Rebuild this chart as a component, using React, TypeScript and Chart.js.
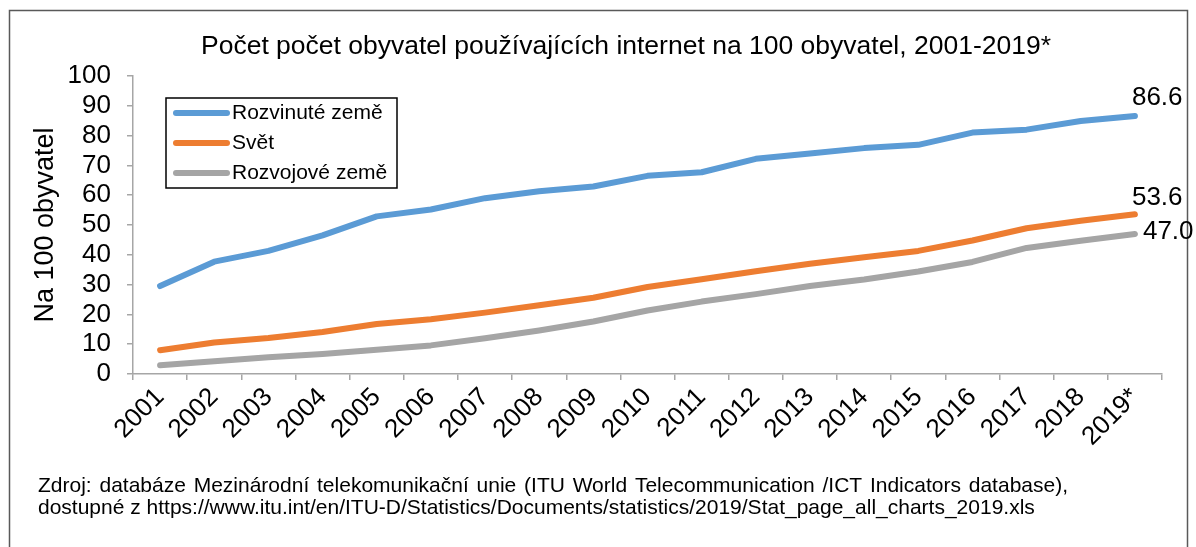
import React, { useEffect, useRef } from "react";
import { Chart, registerables } from "chart.js";

Chart.register(...registerables);

const years = ["2001", "2002", "2003", "2004", "2005", "2006", "2007", "2008", "2009", "2010", "2011", "2012", "2013", "2014", "2015", "2016", "2017", "2018", "2019*"];
const developed = [29.5, 37.7, 41.3, 46.5, 52.9, 55.2, 59.0, 61.3, 62.9, 66.5, 67.7, 72.2, 74.0, 75.8, 76.9, 81.0, 82.0, 84.9, 86.6];
const world = [8.0, 10.6, 12.1, 14.1, 16.8, 18.4, 20.6, 23.1, 25.6, 29.2, 31.8, 34.5, 37.0, 39.2, 41.3, 44.8, 48.9, 51.4, 53.6];
const developing = [2.9, 4.3, 5.6, 6.7, 8.1, 9.6, 12.0, 14.6, 17.6, 21.3, 24.3, 26.8, 29.5, 31.7, 34.4, 37.6, 42.3, 44.7, 47.0];
const seriesNames = ["Rozvinuté země", "Svět", "Rozvojové země"];
const endLabels = ["86.6", "53.6", "47.0"];
const yMin = 0;
const yMax = 100;
const yStep = 10;
const titleText = "Počet počet obyvatel používajících internet na 100 obyvatel, 2001-2019*";
const yAxisTitle = "Na 100 obyvatel";
const sourceLine1 = "Zdroj: databáze Mezinárodní telekomunikační unie (ITU World Telecommunication /ICT Indicators database),";
const sourceLine2 = "dostupné z https://www.itu.int/en/ITU-D/Statistics/Documents/statistics/2019/Stat_page_all_charts_2019.xls";

const colors = ["#5B9BD5", "#ED7D31", "#A5A5A5"];
const FONT = '"Liberation Sans", Arial, sans-serif';
const AXIS = "#A6A6A6";

const W = 1196;
const H = 547;

const decor = {
  id: "decor",
  afterDraw(chart: any) {
    const ctx = chart.ctx as CanvasRenderingContext2D;
    ctx.save();
    // frame
    ctx.strokeStyle = "#595959";
    ctx.lineWidth = 1.5;
    ctx.strokeRect(9.5, 10.5, 1178, 600);

    // title
    ctx.fillStyle = "#000";
    ctx.font = `26.5px ${FONT}`;
    ctx.textAlign = "center";
    ctx.textBaseline = "middle";
    ctx.fillText(titleText, 626, 47);

    // y axis title
    ctx.save();
    ctx.translate(46, 225);
    ctx.rotate(-Math.PI / 2);
    ctx.font = `27px ${FONT}`;
    ctx.textAlign = "center";
    ctx.textBaseline = "middle";
    ctx.fillText(yAxisTitle, 0, 0);
    ctx.restore();

    // legend
    ctx.strokeStyle = "#000";
    ctx.lineWidth = 1.5;
    ctx.strokeRect(166, 98, 231, 90);
    ctx.font = `21px ${FONT}`;
    ctx.textAlign = "left";
    ctx.textBaseline = "middle";
    seriesNames.forEach((name, i) => {
      const y = 113 + i * 30;
      ctx.strokeStyle = colors[i];
      ctx.lineWidth = 6;
      ctx.lineCap = "round";
      ctx.beginPath();
      ctx.moveTo(176, y);
      ctx.lineTo(227, y);
      ctx.stroke();
      ctx.fillStyle = "#000";
      ctx.fillText(name, 232, y);
    });

    // end labels
    ctx.font = `26px ${FONT}`;
    ctx.fillStyle = "#000";
    ctx.textAlign = "left";
    ctx.textBaseline = "middle";
    const offsets = [[-3, -18], [-3, -16], [8, -2]];
    chart.data.datasets.forEach((ds: any, i: number) => {
      const meta = chart.getDatasetMeta(i);
      const pt = meta.data[meta.data.length - 1];
      ctx.fillText(endLabels[i], pt.x + offsets[i][0], pt.y + offsets[i][1]);
    });

    // source text
    ctx.font = `21px ${FONT}`;
    ctx.textAlign = "left";
    ctx.textBaseline = "middle";
    const words = sourceLine1.split(" ");
    const target = 1068 - 38;
    const wordsW = words.reduce((s, w) => s + ctx.measureText(w).width, 0);
    const gap = (target - wordsW) / (words.length - 1);
    let x = 38;
    words.forEach((w) => {
      ctx.fillText(w, x, 486);
      x += ctx.measureText(w).width + gap;
    });
    ctx.fillText(sourceLine2, 38, 508);
    ctx.restore();
  },
};

export default function App() {
  const ref = useRef<HTMLCanvasElement>(null);
  useEffect(() => {
    document.body.style.margin = "0";
    const chart = new Chart(ref.current!, {
      type: "line",
      data: {
        labels: years,
        datasets: [
          { label: seriesNames[0], data: developed, borderColor: colors[0] },
          { label: seriesNames[1], data: world, borderColor: colors[1] },
          { label: seriesNames[2], data: developing, borderColor: colors[2] },
        ].map((d) => ({
          ...d,
          borderWidth: 6,
          borderCapStyle: "round" as const,
          borderJoinStyle: "round" as const,
          pointRadius: 0,
          pointHoverRadius: 0,
          tension: 0,
          fill: false,
        })),
      },
      options: {
        animation: false,
        responsive: false,
        devicePixelRatio: 1,
        layout: { padding: { top: 76, right: 34, left: 0, bottom: 0 } },
        plugins: { legend: { display: false }, title: { display: false }, tooltip: { enabled: false } },
        events: [],
        scales: {
          x: {
            type: "category",
            offset: true,
            grid: { display: true, drawOnChartArea: false, drawTicks: true, tickLength: 6, color: AXIS, offset: true, lineWidth: 1.5 },
            border: { display: true, color: AXIS, width: 1.5 },
            ticks: { color: "#000", font: { family: FONT, size: 26 }, minRotation: 45, maxRotation: 45, padding: 2, autoSkip: false },
            afterFit: (s: any) => { s.height = H - 374; },
          },
          y: {
            min: yMin,
            max: yMax,
            grid: { display: true, drawOnChartArea: false, drawTicks: true, tickLength: 6, color: AXIS, lineWidth: 1.5 },
            border: { display: true, color: AXIS, width: 1.5 },
            ticks: { stepSize: yStep, color: "#000", font: { family: FONT, size: 26, lineHeight: 1 }, padding: 16, autoSkip: false },
            afterFit: (s: any) => { s.width = 133; },
          },
        },
      },
      plugins: [decor],
    });
    return () => chart.destroy();
  }, []);
  return (
    <div style={{ position: "absolute", left: 0, top: 0 }}>
      <canvas ref={ref} width={W} height={H} style={{ width: W, height: H, display: "block" }} />
    </div>
  );
}
